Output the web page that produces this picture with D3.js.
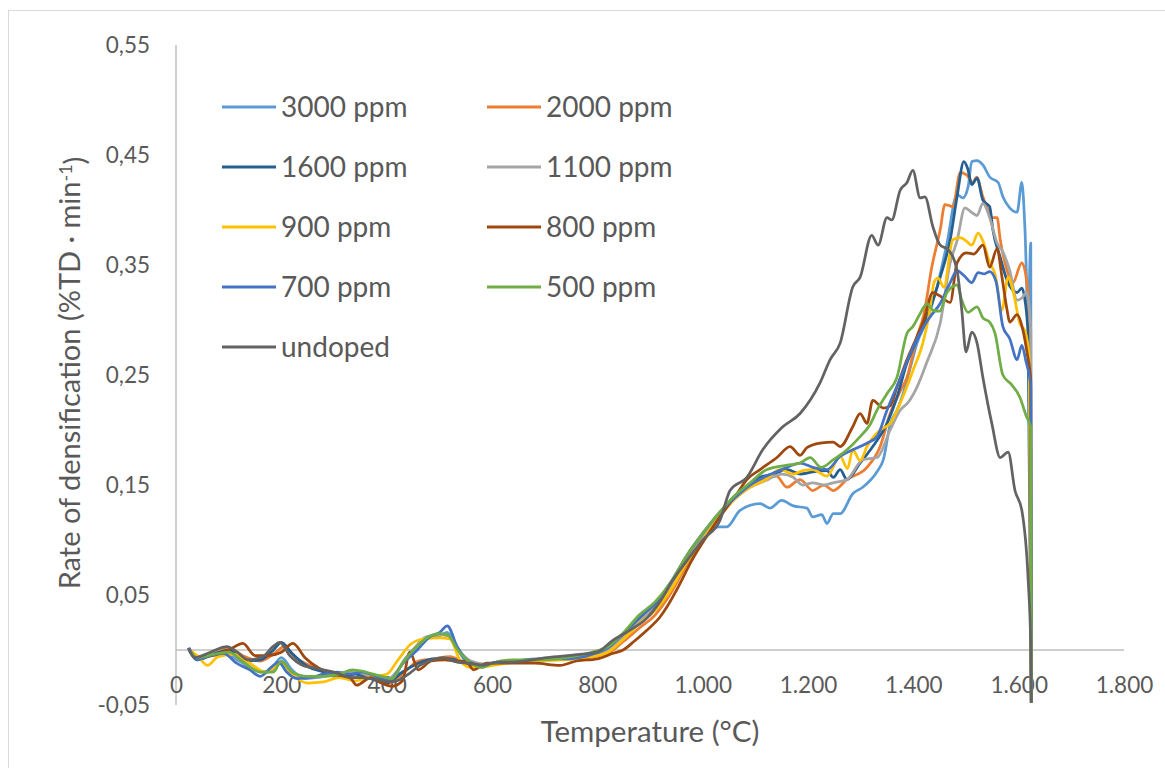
<!DOCTYPE html>
<html>
<head>
<meta charset="utf-8">
<script src="https://d3js.org/d3.v7.min.js"></script>
<style>
body {margin: 0; background: #fff;}
svg text {font-family: Lato, "Open Sans", sans-serif; fill: #595959;}
</style>
</head>
<body>
<svg id="chart" width="1165" height="768"></svg>
<script>
// series names + colours (legend order = draw order)
var names = ["3000 ppm", "2000 ppm", "1600 ppm", "1100 ppm", "900 ppm", "800 ppm", "700 ppm", "500 ppm", "undoped"];
var colors = ["#5B9BD5", "#ED7D31", "#255E91", "#A5A5A5", "#FFC000", "#9E480E", "#4472C4", "#70AD47", "#636363"];

// ticks
var xTicks = [0, 200, 400, 600, 800, 1000, 1200, 1400, 1600, 1800];
var xLabels = ["0", "200", "400", "600", "800", "1.000", "1.200", "1.400", "1.600", "1.800"];
var yTicks = [-0.05, 0.05, 0.15, 0.25, 0.35, 0.45, 0.55];
var yLabels = ["-0,05", "0,05", "0,15", "0,25", "0,35", "0,45", "0,55"];

// [temperature °C, rate %TD/min]
var s3000 = [[25,0.0],[40,-0.008],[60,-0.004],[90,-0.002],[120,-0.01],[150,-0.018],[175,-0.02],[200,-0.007],[220,-0.018],[245,-0.026],[270,-0.025],[300,-0.022],[330,-0.02],[360,-0.022],[390,-0.028],[410,-0.026],[435,-0.008],[460,0.005],[480,0.012],[500,0.013],[515,0.016],[535,0.0],[555,-0.012],[580,-0.014],[610,-0.011],[650,-0.01],[700,-0.009],[750,-0.008],[790,-0.005],[820,0.0],[850,0.015],[880,0.03],[910,0.042],[940,0.06],[970,0.085],[1000,0.103],[1030,0.112],[1046,0.112],[1071,0.127],[1109,0.133],[1128,0.129],[1150,0.136],[1172,0.131],[1198,0.129],[1209,0.121],[1226,0.123],[1236,0.115],[1248,0.124],[1261,0.124],[1285,0.142],[1304,0.148],[1331,0.162],[1343,0.173],[1356,0.205],[1369,0.218],[1380,0.232],[1395,0.258],[1407,0.279],[1426,0.300],[1445,0.330],[1464,0.37],[1483,0.414],[1494,0.411],[1504,0.421],[1511,0.444],[1521,0.445],[1532,0.441],[1545,0.430],[1561,0.425],[1570,0.412],[1583,0.402],[1597,0.398],[1606,0.425],[1612,0.382],[1618,0.303],[1623,0.370],[1624,-0.048]];
var s2000 = [[25,0.0],[40,-0.006],[70,-0.004],[100,0.002],[130,-0.006],[160,-0.01],[190,-0.002],[205,0.003],[230,-0.008],[260,-0.015],[290,-0.02],[320,-0.024],[350,-0.025],[380,-0.027],[405,-0.03],[430,-0.022],[460,-0.01],[490,-0.008],[520,-0.006],[550,-0.012],[580,-0.015],[620,-0.011],[660,-0.011],[700,-0.009],[750,-0.008],[790,-0.006],[820,-0.003],[850,0.008],[880,0.02],[910,0.032],[940,0.052],[970,0.078],[1000,0.1],[1030,0.12],[1060,0.137],[1090,0.15],[1120,0.156],[1140,0.158],[1160,0.148],[1185,0.155],[1209,0.145],[1230,0.15],[1248,0.145],[1274,0.155],[1312,0.166],[1337,0.185],[1356,0.215],[1375,0.235],[1388,0.248],[1407,0.285],[1420,0.305],[1435,0.348],[1451,0.382],[1460,0.405],[1475,0.403],[1489,0.434],[1501,0.432],[1513,0.425],[1520,0.43],[1532,0.412],[1542,0.400],[1551,0.393],[1559,0.393],[1565,0.373],[1578,0.345],[1589,0.334],[1606,0.352],[1615,0.336],[1621,0.297],[1624,-0.048]];
var s1600 = [[25,0.0],[40,-0.009],[70,-0.004],[100,0.0],[130,-0.01],[160,-0.009],[185,0.0],[200,0.007],[220,-0.003],[250,-0.015],[280,-0.02],[310,-0.025],[340,-0.022],[370,-0.026],[400,-0.03],[430,-0.02],[460,-0.012],[490,-0.008],[520,-0.008],[550,-0.012],[580,-0.014],[620,-0.011],[660,-0.01],[700,-0.008],[750,-0.007],[790,-0.004],[820,0.002],[850,0.014],[880,0.028],[910,0.04],[940,0.06],[970,0.085],[1000,0.105],[1030,0.123],[1060,0.138],[1090,0.15],[1109,0.157],[1135,0.16],[1160,0.164],[1185,0.16],[1210,0.162],[1236,0.163],[1248,0.157],[1261,0.164],[1274,0.155],[1299,0.17],[1323,0.185],[1350,0.206],[1369,0.23],[1388,0.261],[1407,0.282],[1426,0.303],[1451,0.339],[1470,0.373],[1483,0.412],[1496,0.444],[1503,0.438],[1511,0.423],[1521,0.429],[1532,0.409],[1545,0.403],[1551,0.382],[1565,0.357],[1578,0.336],[1597,0.325],[1606,0.329],[1612,0.318],[1618,0.285],[1624,-0.048]];
var s1100 = [[25,0.0],[40,-0.008],[70,-0.005],[100,-0.003],[130,-0.012],[160,-0.02],[185,-0.018],[200,-0.01],[220,-0.02],[250,-0.025],[280,-0.024],[310,-0.022],[340,-0.02],[370,-0.024],[400,-0.027],[425,-0.016],[450,0.0],[475,0.012],[500,0.014],[520,0.012],[540,-0.002],[560,-0.01],[590,-0.013],[630,-0.011],[680,-0.009],[730,-0.008],[790,-0.004],[820,0.0],[850,0.012],[880,0.026],[910,0.04],[940,0.058],[970,0.083],[1000,0.104],[1030,0.122],[1060,0.137],[1090,0.148],[1120,0.154],[1150,0.16],[1172,0.157],[1190,0.15],[1209,0.152],[1230,0.15],[1248,0.152],[1274,0.155],[1304,0.173],[1331,0.175],[1356,0.2],[1375,0.218],[1390,0.225],[1407,0.239],[1426,0.262],[1451,0.297],[1470,0.352],[1483,0.372],[1498,0.402],[1510,0.398],[1521,0.395],[1532,0.406],[1545,0.393],[1559,0.37],[1570,0.362],[1583,0.345],[1597,0.318],[1606,0.32],[1615,0.325],[1623,0.29],[1624,-0.048]];
var s900 = [[25,0.0],[40,-0.005],[60,-0.014],[80,-0.006],[110,-0.004],[140,-0.012],[170,-0.02],[200,-0.012],[220,-0.022],[250,-0.03],[280,-0.029],[310,-0.025],[340,-0.028],[370,-0.024],[400,-0.022],[420,-0.01],[445,0.005],[470,0.01],[500,0.011],[520,0.01],[540,-0.01],[560,-0.016],[590,-0.015],[630,-0.012],[680,-0.01],[730,-0.009],[790,-0.006],[820,-0.002],[850,0.01],[880,0.024],[910,0.036],[940,0.055],[970,0.08],[1000,0.1],[1030,0.12],[1060,0.137],[1090,0.148],[1120,0.155],[1147,0.164],[1172,0.16],[1190,0.163],[1209,0.164],[1236,0.158],[1261,0.176],[1275,0.165],[1285,0.182],[1299,0.172],[1312,0.185],[1337,0.2],[1356,0.206],[1380,0.23],[1400,0.255],[1418,0.279],[1430,0.305],[1440,0.335],[1447,0.338],[1458,0.33],[1475,0.373],[1489,0.375],[1500,0.372],[1511,0.368],[1523,0.379],[1532,0.372],[1545,0.352],[1555,0.342],[1568,0.309],[1580,0.339],[1590,0.325],[1602,0.297],[1612,0.29],[1620,0.265],[1624,-0.048]];
var s800 = [[25,0.0],[40,-0.007],[70,-0.005],[100,0.0],[127,0.006],[150,-0.005],[175,-0.005],[200,-0.002],[222,0.006],[245,-0.007],[270,-0.016],[300,-0.022],[330,-0.025],[343,-0.032],[370,-0.025],[390,-0.03],[410,-0.033],[430,-0.028],[444,-0.002],[460,-0.018],[485,-0.01],[510,-0.009],[530,-0.01],[550,-0.01],[565,-0.018],[590,-0.012],[630,-0.012],[680,-0.012],[729,-0.014],[760,-0.01],[800,-0.008],[830,-0.003],[849,0.0],[870,0.008],[894,0.018],[919,0.03],[932,0.039],[951,0.055],[980,0.082],[1010,0.105],[1040,0.126],[1065,0.142],[1084,0.155],[1109,0.164],[1141,0.175],[1166,0.185],[1185,0.177],[1198,0.184],[1223,0.188],[1248,0.189],[1261,0.185],[1285,0.203],[1299,0.215],[1312,0.206],[1323,0.227],[1343,0.22],[1356,0.222],[1369,0.239],[1388,0.264],[1407,0.285],[1420,0.3],[1437,0.325],[1450,0.322],[1470,0.316],[1483,0.352],[1501,0.361],[1515,0.36],[1532,0.368],[1545,0.348],[1559,0.365],[1568,0.34],[1578,0.309],[1583,0.298],[1597,0.305],[1608,0.291],[1616,0.27],[1623,0.245],[1624,-0.048]];
var s700 = [[25,0.002],[40,-0.009],[65,-0.005],[90,-0.003],[115,-0.012],[140,-0.018],[160,-0.024],[180,-0.016],[195,-0.011],[210,-0.02],[230,-0.026],[255,-0.025],[280,-0.022],[305,-0.02],[330,-0.022],[355,-0.02],[380,-0.024],[405,-0.028],[431,-0.012],[458,0.0],[482,0.012],[501,0.016],[515,0.022],[534,0.003],[552,-0.009],[577,-0.014],[602,-0.012],[640,-0.01],[690,-0.008],[740,-0.008],[790,-0.004],[820,0.002],[850,0.015],[880,0.03],[910,0.042],[940,0.062],[970,0.086],[1000,0.106],[1030,0.124],[1060,0.138],[1090,0.15],[1120,0.158],[1140,0.162],[1160,0.166],[1185,0.17],[1209,0.166],[1236,0.164],[1261,0.176],[1285,0.182],[1312,0.188],[1331,0.194],[1350,0.218],[1369,0.24],[1388,0.262],[1407,0.283],[1432,0.303],[1451,0.315],[1470,0.334],[1483,0.345],[1497,0.34],[1511,0.334],[1523,0.343],[1535,0.342],[1545,0.344],[1557,0.335],[1570,0.294],[1583,0.283],[1597,0.264],[1606,0.277],[1614,0.262],[1623,0.24],[1624,-0.048]];
var s500 = [[25,0.0],[40,-0.007],[70,-0.004],[100,-0.002],[130,-0.012],[160,-0.02],[185,-0.02],[200,-0.01],[220,-0.02],[250,-0.024],[280,-0.024],[310,-0.022],[335,-0.018],[360,-0.02],[390,-0.024],[410,-0.026],[430,-0.012],[455,0.002],[480,0.012],[500,0.015],[515,0.014],[535,0.0],[555,-0.01],[580,-0.016],[600,-0.012],[640,-0.009],[690,-0.009],[740,-0.007],[790,-0.002],[820,0.003],[850,0.016],[880,0.032],[910,0.044],[940,0.062],[970,0.086],[1000,0.106],[1030,0.124],[1060,0.14],[1090,0.152],[1122,0.164],[1160,0.168],[1185,0.17],[1204,0.175],[1225,0.166],[1248,0.173],[1274,0.182],[1299,0.194],[1318,0.205],[1331,0.218],[1350,0.233],[1369,0.248],[1388,0.288],[1399,0.294],[1412,0.305],[1426,0.315],[1437,0.309],[1450,0.308],[1464,0.325],[1483,0.332],[1492,0.318],[1504,0.307],[1521,0.312],[1532,0.302],[1545,0.298],[1555,0.288],[1570,0.25],[1587,0.241],[1602,0.230],[1615,0.212],[1623,0.203],[1624,-0.048]];
var sUndoped = [[23,0.002],[36,-0.007],[65,-0.002],[97,0.003],[116,-0.002],[137,-0.009],[165,-0.006],[184,0.003],[197,0.007],[216,-0.005],[241,-0.014],[260,-0.016],[279,-0.018],[306,-0.021],[330,-0.025],[355,-0.025],[382,-0.027],[406,-0.029],[425,-0.027],[444,-0.021],[463,-0.014],[488,-0.009],[507,-0.007],[534,-0.011],[558,-0.012],[583,-0.014],[609,-0.011],[640,-0.011],[704,-0.007],[767,-0.004],[799,-0.002],[830,0.009],[862,0.018],[894,0.029],[919,0.044],[944,0.064],[976,0.085],[1000,0.1],[1033,0.118],[1052,0.145],[1084,0.157],[1114,0.182],[1150,0.202],[1185,0.215],[1223,0.243],[1242,0.264],[1261,0.279],[1285,0.330],[1299,0.339],[1321,0.377],[1333,0.368],[1350,0.393],[1359,0.391],[1375,0.418],[1388,0.425],[1399,0.436],[1413,0.411],[1422,0.412],[1437,0.385],[1451,0.368],[1466,0.364],[1483,0.345],[1492,0.309],[1500,0.271],[1511,0.289],[1521,0.279],[1532,0.248],[1549,0.206],[1565,0.175],[1580,0.180],[1593,0.145],[1606,0.127],[1618,0.064],[1623,0.003],[1624,-0.048]];

var allSeries = [s3000, s2000, s1600, s1100, s900, s800, s700, s500, sUndoped];

var svg = d3.select("#chart");

// outer chart border (only top/left visible in crop)
svg.append("rect").attr("x", 8.5).attr("y", 10.5).attr("width", 1200).attr("height", 800)
    .attr("fill", "none").attr("stroke", "#D9D9D9").attr("stroke-width", 1);

var x = d3.scaleLinear().domain([0, 1800]).range([176, 1124]);
var y = d3.scaleLinear().domain([-0.05, 0.55]).range([705, 45]);

// axes
svg.append("line").attr("x1", x(0)).attr("x2", x(0)).attr("y1", y(0.55)).attr("y2", y(-0.05))
    .attr("stroke", "#BFBFBF").attr("stroke-width", 1.5);
svg.append("line").attr("x1", x(0)).attr("x2", x(1800)).attr("y1", y(0)).attr("y2", y(0))
    .attr("stroke", "#BFBFBF").attr("stroke-width", 1.5);

var yAxis = svg.append("g").attr("transform", "translate(" + x(0) + ",0)")
    .call(d3.axisLeft(y).tickValues(yTicks).tickFormat(function(d, i) {return yLabels[i];}).tickSize(0).tickPadding(26));
var xAxis = svg.append("g").attr("transform", "translate(0," + y(0) + ")")
    .call(d3.axisBottom(x).tickValues(xTicks).tickFormat(function(d, i) {return xLabels[i];}).tickSize(0).tickPadding(27));
[yAxis, xAxis].forEach(function(g) {
    g.select(".domain").remove();
    g.selectAll("text").style("font-family", "Lato, sans-serif").style("font-size", "22.5px").attr("fill", "#595959");
});

// lines
var line = d3.line()
    .x(function(d) {return x(d[0]);})
    .y(function(d) {return y(d[1]);})
    .curve(d3.curveMonotoneX);

svg.append("g").selectAll("path")
    .data(allSeries)
    .enter()
    .append("path")
        .attr("d", line)
        .attr("fill", "none")
        .attr("stroke", function(d, i) {return colors[i];})
        .attr("stroke-width", 2.75)
        .attr("stroke-linejoin", "round");

// legend: two columns
var legend = svg.append("g");
names.forEach(function(n, i) {
    var col = i % 2, row = Math.floor(i / 2);
    var lx = col == 0 ? 222 : 487;
    var ly = 107 + row * 60;
    legend.append("line").attr("x1", lx).attr("x2", lx + 54).attr("y1", ly).attr("y2", ly)
        .attr("stroke", colors[i]).attr("stroke-width", 3);
    legend.append("text").attr("x", lx + 59).attr("y", ly).attr("dy", "0.36em")
        .style("font-size", "28px").text(n);
});

// axis titles
svg.append("text")
    .attr("x", 650).attr("y", 742)
    .attr("text-anchor", "middle")
    .style("font-size", "29.5px")
    .text("Temperature (°C)");

var yt = svg.append("text")
    .attr("transform", "translate(80,373) rotate(-90)")
    .attr("text-anchor", "middle")
    .style("font-size", "29px");
yt.append("tspan").text("Rate of densification (%TD · min");
yt.append("tspan").attr("dy", "-0.45em").style("font-size", "18px").text("-1");
yt.append("tspan").attr("dy", "0.45em").text(")");
</script>
</body>
</html>
